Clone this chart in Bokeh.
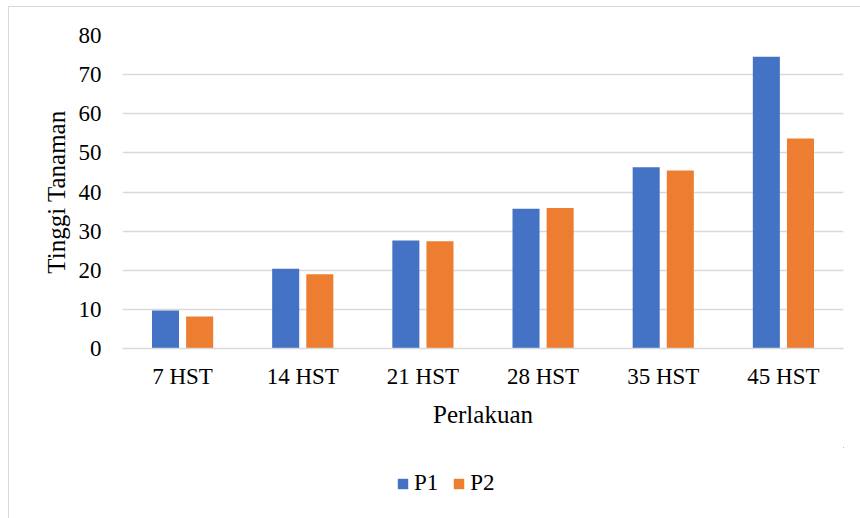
from bokeh.plotting import figure
from bokeh.layouts import column
from bokeh.models import ColumnDataSource, FactorRange, Range1d, Legend, LegendItem, FixedTicker
from bokeh.transform import dodge
from bokeh.embed import file_html
from bokeh.resources import INLINE

categories = ["7 HST", "14 HST", "21 HST", "28 HST", "35 HST", "45 HST"]
p1 = [9.7, 20.4, 27.6, 35.7, 46.3, 74.6]
p2 = [8.2, 19.0, 27.4, 35.9, 45.5, 53.7]
y_ticks = [0, 10, 20, 30, 40, 50, 60, 70, 80]
series_names = ["P1", "P2"]

FONT = "Liberation Serif"
BLUE = "#4472C4"
ORANGE = "#ED7D31"
GRID = "#d9d9d9"

source = ColumnDataSource(data=dict(cat=categories, p1=p1, p2=p2))

p = figure(
    x_range=FactorRange(*categories, range_padding=0),
    y_range=Range1d(0, 80),
    width=851, height=440,
    min_border_left=113, min_border_right=17,
    min_border_top=28, min_border_bottom=99,
    output_backend="svg", toolbar_location=None,
)
p.outline_line_color = None
p.background_fill_color = "white"
p.border_fill_color = "white"

p.vbar(x=dodge("cat", -0.142, range=p.x_range), top="p1", width=0.225,
       source=source, fill_color=BLUE, line_color=None)
p.vbar(x=dodge("cat", 0.142, range=p.x_range), top="p2", width=0.225,
       source=source, fill_color=ORANGE, line_color=None)

# grid
p.xgrid.grid_line_color = None
p.ygrid.grid_line_color = GRID
p.ygrid.grid_line_width = 1.5
p.yaxis.ticker = FixedTicker(ticks=y_ticks)

# y axis
p.yaxis.axis_line_color = None
p.yaxis.major_tick_line_color = None
p.yaxis.minor_tick_line_color = None
p.yaxis.major_label_text_font = FONT
p.yaxis.major_label_text_font_size = "23px"
p.yaxis.major_label_text_color = "#000000"
p.yaxis.major_label_standoff = 15
p.yaxis.axis_label = "Tinggi Tanaman"
p.yaxis.axis_label_text_font = FONT
p.yaxis.axis_label_text_font_size = "25px"
p.yaxis.axis_label_text_font_style = "normal"
p.yaxis.axis_label_text_color = "#000000"
p.yaxis.axis_label_standoff = 6

# x axis
p.xaxis.axis_line_color = GRID
p.xaxis.axis_line_width = 1.5
p.xaxis.major_tick_line_color = None
p.xaxis.minor_tick_line_color = None
p.xaxis.major_label_text_font = FONT
p.xaxis.major_label_text_font_size = "23px"
p.xaxis.major_label_text_color = "#000000"
p.xaxis.major_label_standoff = 9
p.xaxis.axis_label = "Perlakuan"
p.xaxis.axis_label_text_font = FONT
p.xaxis.axis_label_text_font_size = "25px"
p.xaxis.axis_label_text_font_style = "normal"
p.xaxis.axis_label_text_color = "#000000"
p.xaxis.axis_label_standoff = 9

# legend strip below the chart; its glyph renderers fall outside its view
lg = figure(
    x_range=Range1d(-2, -1), y_range=Range1d(-2, -1),
    width=851, height=71, min_border=0,
    x_axis_type=None, y_axis_type=None,
    output_backend="svg", toolbar_location=None,
)
lg.outline_line_color = None
lg.xgrid.grid_line_color = None
lg.ygrid.grid_line_color = None
lg.background_fill_color = None
lg.border_fill_color = None
l1 = lg.vbar(x="p1", top="p1", width=0.1, source=source, fill_color=BLUE, line_color=None)
l2 = lg.vbar(x="p2", top="p2", width=0.1, source=source, fill_color=ORANGE, line_color=None)

legend = Legend(
    items=[LegendItem(label=series_names[0], renderers=[l1]),
           LegendItem(label=series_names[1], renderers=[l2])],
    orientation="horizontal",
    location=(274, 22),
    label_text_font=FONT,
    label_text_font_size="23px",
    label_text_color="#000000",
    glyph_width=13, glyph_height=13,
    label_standoff=5, spacing=14,
    padding=2, margin=0,
    border_line_color=None,
    background_fill_alpha=0,
)
lg.add_layout(legend, "center")

layout = column(p, lg, spacing=0)
layout.margin = (6, 0, 0, 8)
layout.styles = {"border-top": "1px solid #d9d9d9", "border-left": "1px solid #d9d9d9",
                 "background-color": "white"}

open("out.html", "w").write(file_html(layout, INLINE))
